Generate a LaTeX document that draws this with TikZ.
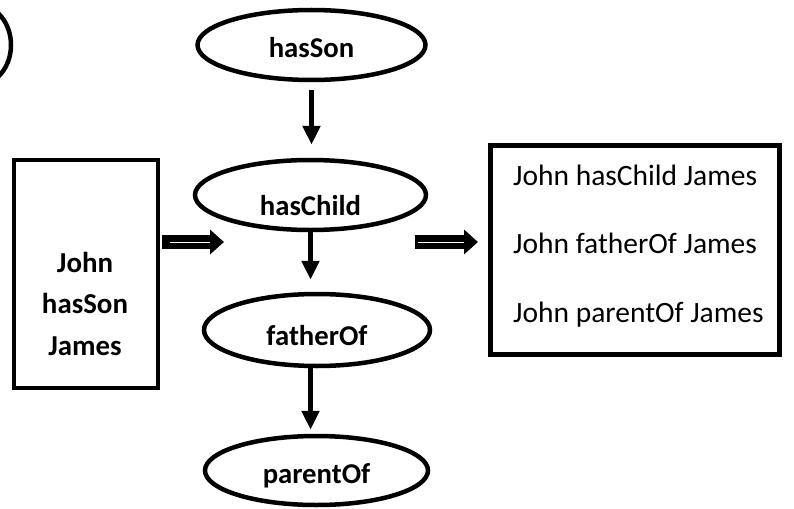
\documentclass[tikz,border=0pt]{standalone}
\usepackage{fontspec}
\setmainfont{Carlito}
\usetikzlibrary{shapes.geometric,arrows.meta}
\begin{document}
\begin{tikzpicture}[x=1pt,y=-1pt,
  oval/.style={ellipse, draw, line width=4.5pt, inner sep=0pt,
    font=\fontsize{28.7}{34}\selectfont\bfseries, text depth=0pt},
  frame/.style={draw, rectangle, inner sep=0pt},
  boldline/.style={font=\fontsize{28.9}{34}\selectfont\bfseries, inner sep=0pt, anchor=base},
  plainline/.style={font=\fontsize{29.5}{34}\selectfont, inner sep=0pt, anchor=base west},
  down/.style={line width=5pt, -{Triangle[length=19pt,width=17pt]}},
  fat/.style={line width=14pt, -{Triangle[length=14pt,width=24pt]}},
  fatcore/.style={white, line width=1pt},
]
\useasboundingbox (0,0) rectangle (794,508);

% partly hidden oval at the upper left corner
\begin{scope}
  \clip (0,0) rectangle (794,508);
  \node[oval, minimum width=66pt, minimum height=80pt] (corner) at (-22,45) {};
\end{scope}

% chain of properties
\node[oval, minimum width=228pt, minimum height=70pt, text height=26pt] (hasSon) at (311.5,45) {hasSon};
\node[oval, minimum width=231pt, minimum height=70pt, text height=40pt] (hasChild) at (310.5,195) {hasChild};
\node[oval, minimum width=226pt, minimum height=72pt, text height=30pt] (fatherOf) at (317,330) {fatherOf};
\node[oval, minimum width=223pt, minimum height=69pt, text height=25pt] (parentOf) at (316.5,470.5) {parentOf};

\draw[down, shorten <=8pt, shorten >=13pt] (hasSon.south) -- (hasSon.south |- hasChild.north);
\draw[down, shorten >=12pt] (hasChild.south) -- (hasChild.south |- fatherOf.north);
\draw[down, shorten >=4pt] (hasChild.south |- fatherOf.south) -- (hasChild.south |- parentOf.north);

% input fact
\node[frame, line width=4.5pt, minimum width=144pt, minimum height=228pt] (facts) at (86,274) {};
\node[boldline] (f1) at (85,272) {John};
\node[boldline] (f2) at (85,313) {hasSon};
\node[boldline] (f3) at (85,355) {James};

% inferred facts
\node[frame, line width=5pt, minimum width=289pt, minimum height=209pt] (results) at (635,250) {};
\node[plainline] (r1) at (513,185) {John hasChild James};
\node[plainline] (r2) at (513,253) {John fatherOf James};
\node[plainline] (r3) at (513,322) {John parentOf James};

% block arrows
\coordinate (lt) at (224,242);
\coordinate (rs) at (415,242);
\draw[fat, shorten <=2pt] (facts.east |- lt) -- (lt);
\draw[fatcore, shorten <=10pt, shorten >=14pt] (facts.east |- lt) -- (lt);
\draw[fat, shorten >=10pt] (rs) -- (rs -| results.west);
\draw[fatcore, shorten <=3pt, shorten >=24pt] (rs) -- (rs -| results.west);
\end{tikzpicture}
\end{document}
